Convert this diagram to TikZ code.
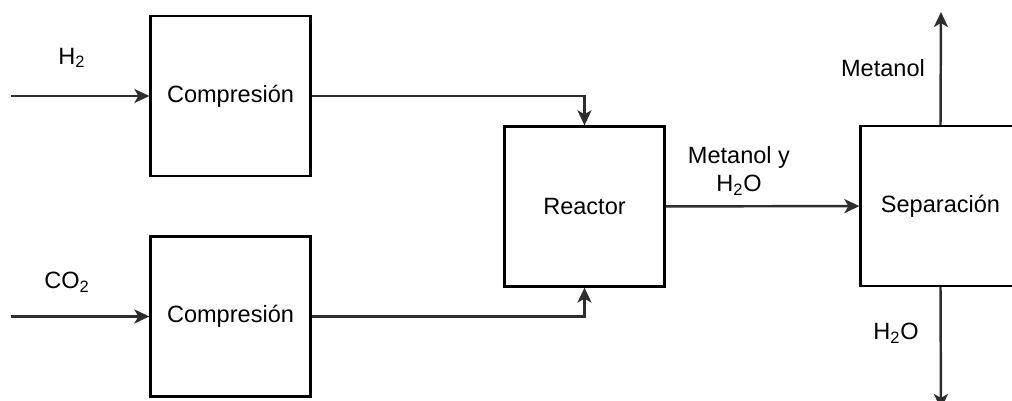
\documentclass[tikz,border=0pt]{standalone}
\usepackage{fontspec}
\setmainfont{Liberation Sans}
\usetikzlibrary{arrows.meta, positioning}
\definecolor{tLine}{RGB}{45, 45, 45}

\begin{document}
\begin{tikzpicture}[
    x=0.02cm, y=-0.02cm,
    font=\fontsize{13.4}{16}\selectfont,
    >={Stealth[length=0.3cm, width=0.28cm, inset=0.08cm]},
    block/.style={
        draw=black,
        line width=1.3pt,
        minimum width=3.2cm,
        minimum height=3.2cm,
        inner sep=0pt
    },
    arrow/.style={->, line width=1.4pt, color=tLine},
    lbl/.style={inner sep=0pt, align=center}
]

\clip (0,0) rectangle (1012,401);

% Process units
\node[block] (comp1) at (230.5, 96) {Compresión};
\node[block] (comp2) at (230.5, 316.5) {Compresión};
\node[block] (reac) at (584.5, 206.5) {Reactor};
\node[block] (sep) at (940.5, 206) {Separación};

% Free ends of the streams
\coordinate (h2in) at (11, 96);
\coordinate (co2in) at (11, 316.5);
\coordinate (metout) at (941, 12);
\coordinate (aguaout) at (941, 409);

% Stream labels
\node[lbl] (lh2) at (72, 58) {H\textsubscript{2}};
\node[lbl] (lco2) at (67, 282) {CO\textsubscript{2}};
\node[lbl] (lmix) at (739, 171) {Metanol y\\H\textsubscript{2}O};
\node[lbl] (lmet) at (883, 68) {Metanol};
\node[lbl] (lagua) at (896, 333) {H\textsubscript{2}O};

\draw[arrow] (h2in) -- (comp1);
\draw[arrow] (co2in) -- (comp2);
\draw[arrow] (comp1.east) -| (reac.north);
\draw[arrow] (comp2.east) -| (reac.south);
\draw[arrow] (reac) -- (sep);
\draw[arrow] (sep.north) -- (metout);
\draw[arrow] (sep.south) -- (aguaout);

\end{tikzpicture}
\end{document}
